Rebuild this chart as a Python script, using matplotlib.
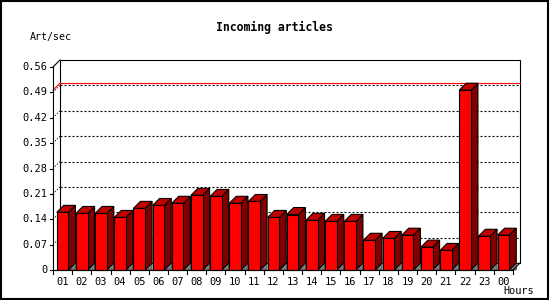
import numpy as np
import matplotlib
matplotlib.use("Agg")
import matplotlib.pyplot as plt
from matplotlib.patches import Polygon, Rectangle

# Datos
hours = ['01', '02', '03', '04', '05', '06', '07', '08', '09', '10', '11', '12',
         '13', '14', '15', '16', '17', '18', '19', '20', '21', '22', '23', '00']
rate = [0.159, 0.156, 0.156, 0.145, 0.170, 0.178, 0.184, 0.206, 0.203, 0.184, 0.189, 0.145,
        0.153, 0.137, 0.134, 0.134, 0.082, 0.087, 0.096, 0.063, 0.054, 0.496, 0.093, 0.096]
yticks = [0, 0.07, 0.14, 0.21, 0.28, 0.35, 0.42, 0.49, 0.56]

W, H = 550, 300
fig = plt.figure(figsize=(W / 100, H / 100), dpi=100)
fig.patch.set_facecolor('white')

# Área frontal del gráfico (en píxeles)
x0, x1, y0, y1 = 53, 513, 270, 67
ax = fig.add_axes([x0 / W, 1 - y0 / H, (x1 - x0) / W, (y0 - y1) / H])
n = len(rate)
ymax = 0.56
ax.set_xlim(0, n)
ax.set_ylim(0, ymax)
ax.axis('off')

# Profundidad 3D (7 px) en unidades de datos
depth = 7
DX = depth * n / (x1 - x0)
DY = depth * ymax / (y0 - y1)

lw = 0.8
mono = 'DejaVu Sans Mono'
dots = (0, (1.8, 1.8))

# Plano de fondo
ax.add_patch(Rectangle((DX, DY), n, ymax, facecolor='white', edgecolor='black',
                       lw=lw, clip_on=False, zorder=1))

# Rejilla punteada en el plano de fondo
for v in yticks[1:-1]:
    ax.plot([DX, n + DX], [v + DY, v + DY], color='black', lw=lw,
            ls=dots, clip_on=False, zorder=2)
    ax.plot([0, DX], [v, v + DY], color='black', lw=lw * 0.7,
            ls=dots, clip_on=False, zorder=2)

# Línea del máximo
vmax = max(rate)
ax.plot([DX, n + DX], [vmax + DY, vmax + DY], color='red', lw=lw, clip_on=False, zorder=2)
ax.plot([0, DX], [vmax, vmax + DY], color='red', lw=lw, clip_on=False, zorder=2)

# Barras 3D
bw = 0.61
for i, v in enumerate(rate):
    xl = i + 0.5 - bw / 2
    xr = i + 0.5 + bw / 2
    # sombra gris en el suelo
    ax.add_patch(Polygon([(xr, 0), (xr + DX, DY), (xr + DX, 0)], closed=True,
                         facecolor='#808080', edgecolor='black', lw=0.4,
                         clip_on=False, zorder=3))
    # cara lateral
    ax.add_patch(Polygon([(xr, 0), (xr + DX, DY), (xr + DX, v + DY), (xr, v)], closed=True,
                         facecolor='#800000', edgecolor='black', lw=lw,
                         clip_on=False, zorder=4))
    # cara superior
    ax.add_patch(Polygon([(xl, v), (xr, v), (xr + DX, v + DY), (xl + DX, v + DY)], closed=True,
                         facecolor='#c00000', edgecolor='black', lw=lw,
                         clip_on=False, zorder=4))
# cara frontal
ax.bar(np.arange(n) + 0.5, rate, width=bw, color='red', edgecolor='black', lw=lw,
       zorder=5, clip_on=False)

# Ejes frontales
ax.plot([0, 0], [0, ymax], color='black', lw=lw, clip_on=False, zorder=6)
ax.plot([0, DX], [ymax, ymax + DY], color='black', lw=lw, clip_on=False, zorder=6)
ax.plot([0, n], [0, 0], color='black', lw=lw, clip_on=False, zorder=6)
ax.plot([n, n + DX], [0, DY], color='black', lw=lw, clip_on=False, zorder=6)

# Marcas y etiquetas del eje Y
tx = 3 * n / (x1 - x0)
for v in yticks:
    ax.plot([-tx, 0], [v, v], color='black', lw=lw, clip_on=False, zorder=6)
    ax.text(-tx - 0.15, v, '0' if v == 0 else f'{v:.2f}', ha='right', va='center',
            fontsize=7.5, family=mono)

# Marcas y etiquetas del eje X
ty = 4 * ymax / (y0 - y1)
for k in range(n + 1):
    ax.plot([k, k], [0, -ty], color='black', lw=lw, clip_on=False, zorder=6)
for i, h in enumerate(hours):
    ax.text(i + 0.5, -0.033, h, ha='center', va='center', fontsize=7.5, family=mono)

# Textos
fig.text(274 / W, 1 - 27 / H, 'Incoming articles', ha='center', va='center',
         fontsize=8.3, fontweight='bold', family=mono)
fig.text(30 / W, 1 - 37 / H, 'Art/sec', ha='left', va='center', fontsize=7.2, family=mono)
fig.text(534 / W, 1 - 291 / H, 'Hours', ha='right', va='center', fontsize=7.4, family=mono)

# Marco exterior
fig.add_artist(Rectangle((0.5 / W, 1.5 / H), (W - 2.5) / W, (H - 2.5) / H,
                         transform=fig.transFigure, fill=False, edgecolor='black', lw=1.5))

fig.savefig('out.png', dpi=100)
